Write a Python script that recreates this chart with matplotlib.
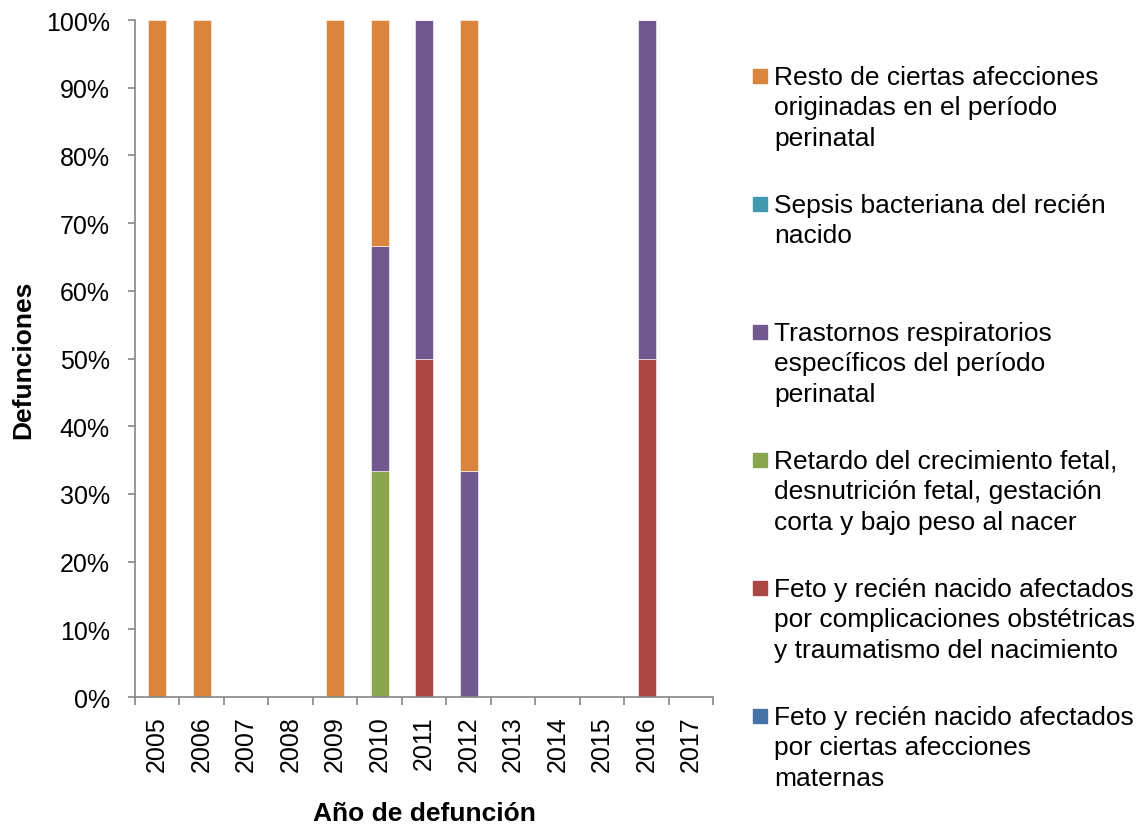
import matplotlib
matplotlib.use("Agg")
import matplotlib.pyplot as plt
import matplotlib.transforms as mtransforms
import numpy as np
from matplotlib.patches import Rectangle

plt.rcParams['font.family'] = ['Liberation Sans', 'DejaVu Sans']

years = ['2005', '2006', '2007', '2008', '2009', '2010', '2011',
         '2012', '2013', '2014', '2015', '2016', '2017']

# shares per cause (fraction of deaths in each year), bottom to top
maternas = [0, 0, 0, 0, 0, 0, 0, 0, 0, 0, 0, 0, 0]
complicaciones = [0, 0, 0, 0, 0, 0, 0.5, 0, 0, 0, 0, 0.5, 0]
retardo = [0, 0, 0, 0, 0, 1/3, 0, 0, 0, 0, 0, 0, 0]
respiratorios = [0, 0, 0, 0, 0, 1/3, 0.5, 1/3, 0, 0, 0, 0.5, 0]
sepsis = [0, 0, 0, 0, 0, 0, 0, 0, 0, 0, 0, 0, 0]
resto = [1, 1, 0, 0, 1, 1/3, 0, 2/3, 0, 0, 0, 0, 0]

series = [
    ("Feto y recién nacido afectados\npor ciertas afecciones\nmaternas", maternas, '#4572A7'),
    ("Feto y recién nacido afectados\npor complicaciones obstétricas\ny traumatismo del nacimiento", complicaciones, '#AA4643'),
    ("Retardo del crecimiento fetal,\ndesnutrición fetal, gestación\ncorta y bajo peso al nacer", retardo, '#89A54E'),
    ("Trastornos respiratorios\nespecíficos del período\nperinatal", respiratorios, '#71588F'),
    ("Sepsis bacteriana del recién\nnacido", sepsis, '#4198AF'),
    ("Resto de ciertas afecciones\noriginadas en el período\nperinatal", resto, '#DB843D'),
]

FS = 19
TFS = 18
W, H = 1143, 828

fig = plt.figure(figsize=(11.43, 8.28), dpi=100)
ax = fig.add_axes([0.1181, 0.157, 0.5061, 0.8176])

x = np.arange(len(years))
bottom = np.zeros(len(years))
for label, vals, color in series:
    vals = np.array(vals)
    ax.bar(x, vals, 0.4, bottom=bottom, color=color, label=label,
           edgecolor='white', linewidth=0.4)
    bottom += vals

ax.set_xlim(-0.5, len(years) - 0.5)
ax.set_ylim(0, 1)
ax.set_yticks(np.arange(0, 1.01, 0.1))
ax.set_yticklabels([f"{int(round(v * 100))}%" for v in np.arange(0, 1.01, 0.1)], fontsize=TFS)
ax.set_xticks(x)
ax.set_xticklabels(years, rotation=90, fontsize=TFS)
ax.set_xticks(np.arange(-0.5, len(years), 1), minor=True)
ax.tick_params(axis='x', which='major', length=0, pad=13)
ax.tick_params(axis='x', which='minor', length=6, color='#868686', width=1.2)
ax.tick_params(axis='y', length=5, color='#868686', width=1.2, pad=13)

for s in ['top', 'right']:
    ax.spines[s].set_visible(False)
for s in ['left', 'bottom']:
    ax.spines[s].set_color('#868686')
    ax.spines[s].set_linewidth(1.2)

ax.set_ylabel("Defunciones", fontsize=FS, fontweight='bold', va='center')
ax.set_xlabel("Año de defunción", fontsize=FS, fontweight='bold', va='center')
ax.yaxis.set_label_coords(23 / W, 0.5,
                          transform=mtransforms.blended_transform_factory(fig.transFigure, ax.transAxes))
ax.xaxis.set_label_coords(0.5, 1 - 814 / H,
                          transform=mtransforms.blended_transform_factory(ax.transAxes, fig.transFigure))

# legend drawn by hand so the swatch sits on the first text line
y0 = 77
for i, (label, vals, color) in enumerate(reversed(series)):
    yc = y0 + i * 128.0
    fig.patches.append(Rectangle((753 / W, 1 - (yc + 7) / H), 14 / W, 14 / H,
                                 transform=fig.transFigure, color=color))
    fig.text(774 / W, 1 - (yc - 11) / H, label, fontsize=FS, va='top',
             ha='left', linespacing=1.33)

fig.savefig("out.png", dpi=100)
